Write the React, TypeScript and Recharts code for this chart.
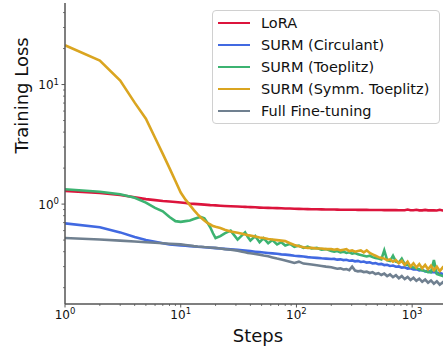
import { LineChart, Line, XAxis, YAxis, Legend } from "recharts";

const steps = [
  1, 2, 3, 4, 5, 6, 7, 8, 9, 10, 11, 12, 13, 14, 15, 16, 17, 18, 19, 20,
  22, 24, 27, 31, 34, 36, 38, 40, 44, 48, 52, 57, 62, 68, 74, 80, 88, 96,
  105, 115, 125, 135, 150, 165, 180, 200,
  212, 225, 240, 255, 270, 286, 303, 321, 340, 360,
  382, 405, 430, 455, 482, 511, 541, 574, 608, 644,
  683, 724, 767, 813, 862, 913, 968, 1026, 1087, 1152,
  1221, 1295, 1372, 1454, 1541, 1634, 1732, 1836, 1940, 2000,
];

const lora = [
  1.29, 1.24, 1.19, 1.14, 1.1, 1.08, 1.06, 1.05, 1.04, 1.03, 1.02, 1.01, 1.005, 1.0, 0.995, 0.99, 0.985, 0.98, 0.978, 0.975,
  0.97, 0.965, 0.96, 0.955, 0.95, 0.948, 0.945, 0.943, 0.94, 0.935, 0.932, 0.93, 0.927, 0.925, 0.922, 0.92, 0.918, 0.915,
  0.912, 0.91, 0.908, 0.906, 0.905, 0.903, 0.902, 0.9,
  0.9, 0.899, 0.898, 0.898, 0.897, 0.897, 0.896, 0.896, 0.895, 0.895,
  0.894, 0.894, 0.893, 0.893, 0.892, 0.892, 0.892, 0.891, 0.891, 0.89,
  0.89, 0.89, 0.889, 0.889, 0.889, 0.9, 0.888, 0.888, 0.896, 0.887,
  0.887, 0.895, 0.886, 0.886, 0.886, 0.885, 0.896, 0.885, 0.886, 0.885,
];

const circulant = [
  0.69, 0.64, 0.58, 0.53, 0.5, 0.485, 0.47, 0.46, 0.455, 0.45, 0.448, 0.445, 0.443, 0.44, 0.438, 0.436, 0.434, 0.432, 0.43, 0.428,
  0.425, 0.422, 0.418, 0.414, 0.41, 0.408, 0.406, 0.404, 0.4, 0.397, 0.394, 0.39, 0.387, 0.384, 0.38, 0.378, 0.374, 0.37,
  0.367, 0.364, 0.36, 0.358, 0.355, 0.352, 0.35, 0.347,
  0.348, 0.343, 0.345, 0.34, 0.342, 0.336, 0.338, 0.332, 0.335, 0.328,
  0.331, 0.324, 0.326, 0.319, 0.321, 0.314, 0.316, 0.309, 0.311, 0.304,
  0.306, 0.299, 0.301, 0.294, 0.296, 0.289, 0.291, 0.284, 0.286, 0.279,
  0.281, 0.274, 0.276, 0.269, 0.271, 0.264, 0.266, 0.26, 0.262, 0.258,
];

const toeplitz = [
  1.33, 1.27, 1.21, 1.13, 1.03, 0.93, 0.87, 0.78, 0.72, 0.71, 0.72, 0.73, 0.75, 0.77, 0.78, 0.76, 0.7, 0.64, 0.57, 0.52,
  0.54, 0.57, 0.6, 0.505, 0.55, 0.58, 0.53, 0.495, 0.54, 0.48, 0.52, 0.47, 0.5, 0.46, 0.48, 0.45, 0.465, 0.44,
  0.45, 0.43, 0.44, 0.425, 0.43, 0.415, 0.42, 0.405,
  0.4, 0.405, 0.395, 0.4, 0.39, 0.395, 0.385, 0.39, 0.38, 0.375,
  0.37, 0.365, 0.37, 0.36, 0.355, 0.35, 0.345, 0.41, 0.34, 0.335,
  0.37, 0.33, 0.325, 0.35, 0.315, 0.31, 0.3, 0.295, 0.29, 0.285,
  0.28, 0.275, 0.27, 0.27, 0.34, 0.26, 0.255, 0.25, 0.248, 0.245,
];

const symmToeplitz = [
  21.3, 15.9, 10.8, 7.06, 5.18, 3.59, 2.63, 2.0, 1.56, 1.25, 1.09, 0.98, 0.89, 0.82, 0.77, 0.73, 0.695, 0.675, 0.655, 0.645,
  0.63, 0.61, 0.59, 0.575, 0.565, 0.556, 0.55, 0.545, 0.535, 0.525, 0.52, 0.51, 0.505, 0.5, 0.495, 0.49, 0.47, 0.455,
  0.445, 0.435, 0.43, 0.43, 0.425, 0.425, 0.42, 0.42,
  0.415, 0.42, 0.41, 0.415, 0.42, 0.405, 0.41, 0.4, 0.405, 0.41,
  0.395, 0.41, 0.39, 0.38, 0.37, 0.36, 0.355, 0.35, 0.34, 0.345,
  0.33, 0.34, 0.32, 0.335, 0.31, 0.33, 0.3, 0.32, 0.295, 0.315,
  0.29, 0.31, 0.285, 0.305, 0.28, 0.3, 0.275, 0.295, 0.28, 0.29,
];

const fullFt = [
  0.52, 0.505, 0.495, 0.487, 0.48, 0.475, 0.47, 0.466, 0.463, 0.46, 0.455, 0.45, 0.445, 0.442, 0.44, 0.437, 0.435, 0.433, 0.431, 0.43,
  0.425, 0.42, 0.415, 0.408, 0.4, 0.395, 0.39, 0.388, 0.383, 0.378, 0.372, 0.366, 0.358, 0.35, 0.344, 0.338, 0.33, 0.322,
  0.33, 0.318, 0.315, 0.312, 0.308, 0.304, 0.3, 0.296,
  0.292, 0.288, 0.29, 0.284, 0.286, 0.28, 0.3, 0.278, 0.274, 0.276,
  0.27, 0.272, 0.265, 0.27, 0.26, 0.264, 0.255, 0.262, 0.25, 0.258,
  0.245, 0.254, 0.24, 0.25, 0.236, 0.246, 0.232, 0.242, 0.228, 0.238,
  0.224, 0.234, 0.22, 0.23, 0.216, 0.226, 0.212, 0.222, 0.21, 0.22,
];

const xTicks = [1, 2, 3, 4, 5, 6, 7, 8, 9, 10, 20, 30, 40, 50, 60, 70, 80, 90, 100, 200, 300, 400, 500, 600, 700, 800, 900, 1000, 2000];
const yTicks = [0.2, 0.3, 0.4, 0.5, 0.6, 0.7, 0.8, 0.9, 1, 2, 3, 4, 5, 6, 7, 8, 9, 10, 20, 30, 40];

const series = [
  { key: "lora", name: "LoRA", color: "#dc143c" },
  { key: "circulant", name: "SURM (Circulant)", color: "#4169e1" },
  { key: "toeplitz", name: "SURM (Toeplitz)", color: "#3cb371" },
  { key: "symm", name: "SURM (Symm. Toeplitz)", color: "#daa520" },
  { key: "full", name: "Full Fine-tuning", color: "#708090" },
];

const data = steps.map((step, i) => ({
  step,
  lora: lora[i],
  circulant: circulant[i],
  toeplitz: toeplitz[i],
  symm: symmToeplitz[i],
  full: fullFt[i],
}));

const FONT = "'DejaVu Sans', sans-serif";
const SPINE = "#555";

const isMajor = (v: number) => Math.abs(Math.log10(v) - Math.round(Math.log10(v))) < 1e-9;

function XTick(props: any) {
  const { x, y, payload } = props;
  const v = payload.value;
  const major = isMajor(v);
  return (
    <g>
      <line x1={x} x2={x} y1={y} y2={y + (major ? 3.5 : 2)} stroke={SPINE} strokeWidth={major ? 1 : 0.8} />
      {major && (
        <text x={x} y={y + 14.5} textAnchor="middle" fontSize={12} fill="#111" fontFamily={FONT}>
          10<tspan dy={-4.5} fontSize={8.5}>{Math.round(Math.log10(v))}</tspan>
        </text>
      )}
    </g>
  );
}

function YTick(props: any) {
  const { x, y, payload } = props;
  const v = payload.value;
  const major = isMajor(v);
  return (
    <g>
      <line x1={x} x2={x - (major ? 3.5 : 2)} y1={y} y2={y} stroke={SPINE} strokeWidth={major ? 1 : 0.8} />
      {major && (
        <text x={x - 6} y={y + 4.5} textAnchor="end" fontSize={12} fill="#111" fontFamily={FONT}>
          10<tspan dy={-4.5} fontSize={8.5}>{Math.round(Math.log10(v))}</tspan>
        </text>
      )}
    </g>
  );
}

function LegendBox() {
  return (
    <div
      style={{
        border: "1px solid #d0d0d0",
        borderRadius: 4,
        background: "rgba(255,255,255,0.8)",
        padding: "1px 0",
        boxSizing: "border-box",
        width: 228,
        fontFamily: FONT,
        fontSize: 14.5,
        color: "#111",
      }}
    >
      {series.map((s) => (
        <div key={s.key} style={{ display: "flex", alignItems: "center", height: 22 }}>
          <div style={{ marginLeft: 5, width: 32, height: 2.5, background: s.color }} />
          <span style={{ marginLeft: 11, lineHeight: "22px", whiteSpace: "nowrap" }}>{s.name}</span>
        </div>
      ))}
    </div>
  );
}

export default function App() {
  return (
    <div style={{ position: "fixed", left: 0, top: 0, width: 443, height: 347, overflow: "hidden", background: "#fff" }}>
      <LineChart width={447} height={347} data={data} margin={{ top: 3, right: 0, bottom: 0, left: 0 }}>
        <XAxis
          dataKey="step"
          type="number"
          scale="log"
          domain={[1, 2000]}
          allowDataOverflow
          ticks={xTicks}
          interval={0}
          height={43}
          tickSize={0}
          tickMargin={0}
          tickLine={false}
          tick={<XTick />}
          axisLine={{ stroke: SPINE, strokeWidth: 1.5 }}
          label={{ value: "Steps", position: "insideBottom", offset: 5, fontSize: 18, fill: "#111", fontFamily: FONT, dx: 2 }}
        />
        <YAxis
          type="number"
          scale="log"
          domain={[0.146, 48.1]}
          allowDataOverflow
          ticks={yTicks}
          interval={0}
          width={65}
          tickSize={0}
          tickMargin={0}
          tickLine={false}
          tick={<YTick />}
          axisLine={{ stroke: SPINE, strokeWidth: 1.5 }}
          label={{ value: "Training Loss", angle: -90, position: "insideLeft", offset: 0, dx: 22, fontSize: 18, fill: "#111", fontFamily: FONT }}
        />
        <Legend
          layout="vertical"
          align="center"
          verticalAlign="middle"
          wrapperStyle={{ top: 10, left: 212, width: 228 }}
          content={() => <LegendBox />}
        />
        {series.map((s) => (
          <Line
            key={s.key}
            dataKey={s.key}
            name={s.name}
            type="linear"
            stroke={s.color}
            strokeWidth={2.6}
            dot={false}
            isAnimationActive={false}
          />
        ))}
      </LineChart>
    </div>
  );
}
